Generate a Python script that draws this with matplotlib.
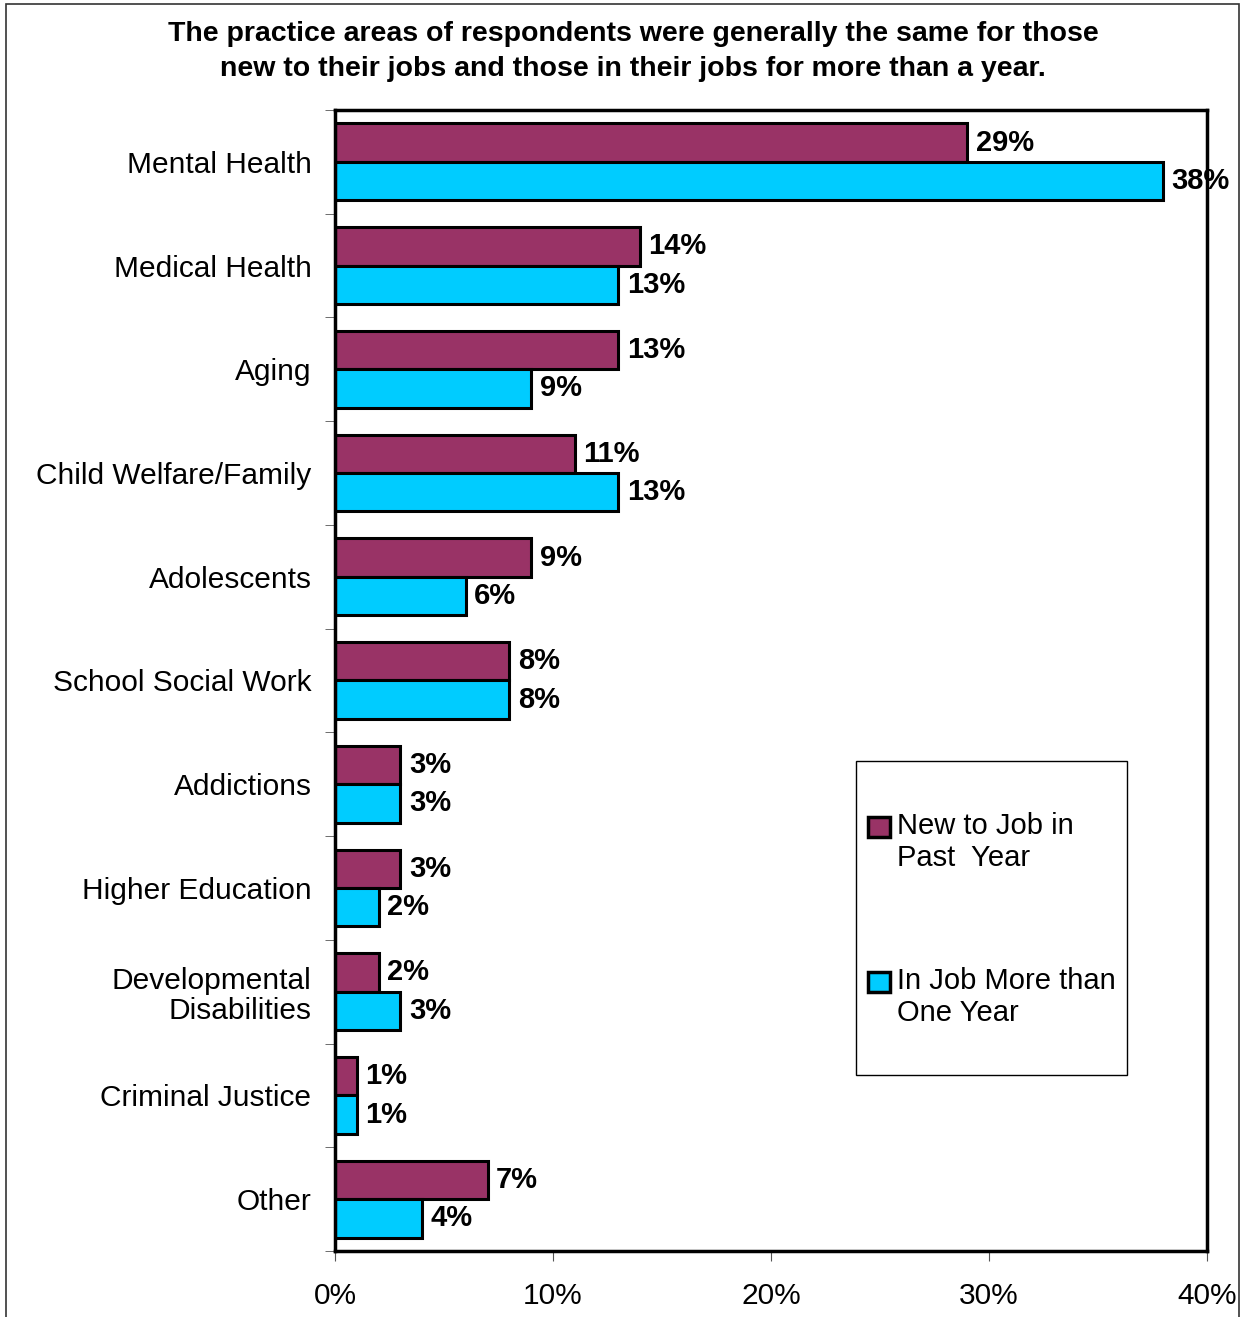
import numpy as np
import matplotlib.pyplot as plt
from matplotlib.patches import Rectangle
from matplotlib.container import BarContainer
from matplotlib.legend_handler import HandlerPatch, update_from_first_child
from matplotlib.ticker import FuncFormatter

plt.rcParams['font.family'] = ['Liberation Sans', 'DejaVu Sans']

categories = ["Mental Health", "Medical Health", "Aging", "Child Welfare/Family",
              "Adolescents", "School Social Work", "Addictions", "Higher Education",
              "Developmental\nDisabilities", "Criminal Justice", "Other"]
new_job = [29, 14, 13, 11, 9, 8, 3, 3, 2, 1, 7]
long_job = [38, 13, 9, 13, 6, 8, 3, 2, 3, 1, 4]
series_names = ["New to Job in\nPast  Year", "In Job More than\nOne Year"]
colors = ["#993366", "#00CCFF"]

LEG_FS = 21


def square_top(legend, orig_handle, xdescent, ydescent, width, height, fontsize):
    # lift the square up to the first line of a two-line label
    return Rectangle((-xdescent, -ydescent + 11.5), width, height)


fig = plt.figure(figsize=(12.41, 13.17), dpi=100)
ax = fig.add_axes([0.270, 0.0501, 0.7026, 0.8664])

# outer frame around the whole chart
fig.patches.append(Rectangle((0.005, -0.05), 0.993, 1.047, transform=fig.transFigure,
                             fill=False, edgecolor="#333333", linewidth=1.2))

y = np.arange(len(categories))
h = 0.37
b1 = ax.barh(y - h / 2, new_job, height=h, color=colors[0], edgecolor="black",
             linewidth=2.2, label=series_names[0])
b2 = ax.barh(y + h / 2, long_job, height=h, color=colors[1], edgecolor="black",
             linewidth=2.2, label=series_names[1])
for bars in (b1, b2):
    ax.bar_label(bars, labels=[f"{v}%" for v in bars.datavalues], padding=6,
                 fontsize=21, fontweight="bold", clip_on=False, zorder=5)

ax.set_xlim(0, 40)
ax.set_ylim(len(categories) - 0.5, -0.5)
ax.set_xticks([0, 10, 20, 30, 40])
ax.xaxis.set_major_formatter(FuncFormatter(lambda v, p: f"{v:.0f}%"))
ax.set_yticks(y)
ax.set_yticklabels(categories, fontsize=21.5, ha="right", linespacing=1.1)
ax.set_yticks(np.arange(len(categories) + 1) - 0.5, minor=True)
ax.tick_params(axis="y", which="major", length=0, pad=17)
ax.tick_params(axis="y", which="minor", length=7, color="#555555")
ax.tick_params(axis="x", length=7, color="#555555", labelsize=21.5, pad=15)
for s in ax.spines.values():
    s.set_linewidth(2.5)

fig.text(0.51, 0.984, "The practice areas of respondents were generally the same for those\n"
         "new to their jobs and those in their jobs for more than a year.",
         ha="center", va="top", fontsize=20.5, fontweight="bold", linespacing=1.45)

# legend box
ax.add_patch(Rectangle((0.5975, 0.1543), 0.3108, 0.2751, transform=ax.transAxes,
                       fill=False, edgecolor="black", linewidth=1.0, zorder=6))
leg = ax.legend(loc="upper left", bbox_to_anchor=(0.611, 0.385), fontsize=LEG_FS,
                frameon=False, labelspacing=3.25, handlelength=0.75, handleheight=0.7,
                handletextpad=0.25, borderpad=0, borderaxespad=0,
                handler_map={BarContainer: HandlerPatch(patch_func=square_top,
                                                        update_func=update_from_first_child)})
for t in leg.get_texts():
    t.set_linespacing(1.2)
for p in leg.get_patches():
    p.set_linewidth(2.5)

fig.savefig("out.png", dpi=100)
